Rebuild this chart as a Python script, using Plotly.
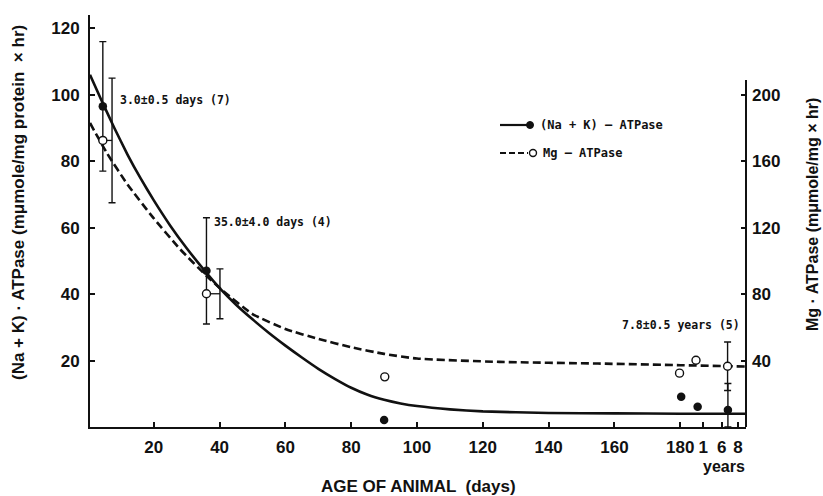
import plotly.graph_objects as go

# ---------------- data ----------------
# (Na+K)-ATPase measured points (left axis, mumole/mg protein x hr)
nak_days = [4.5, 36, 90, 180.3, 185.3, 194.5]
nak_vals = [96.5, 47, 2.1, 9.1, 6.1, 5.1]
nak_err_up = [19.5, 16, 0, 0, 0, 8]
nak_err_dn = [19.5, 16, 0, 0, 0, 5.1]

# Mg-ATPase measured points (right axis, mumole/mg x hr)
mg_days = [4.5, 36, 90.2, 179.8, 184.8, 194.4]
mg_vals = [172.5, 80.2, 30.2, 32.4, 40.2, 36.6]
mg_err = [37.5, 15, 0, 0, 0, 14.6]
mg_err_days = [7.3, 40.1, 90.2, 179.8, 184.8, 194.4]

# fitted curves
nak_curve_days = [0.6, 4, 8, 12, 16, 20, 25, 30, 35, 40, 45, 50, 55, 60, 65, 70, 75, 80,
                  85, 90, 95, 100, 110, 120, 140, 160, 180, 200]
nak_curve_vals = [106, 98.5, 90, 82, 74.8, 68.2, 60.6, 53.8, 47.6, 41.8, 36.8, 32.4, 28.3,
                  24.5, 20.9, 17.5, 14.5, 11.8, 9.7, 8.2, 7.1, 6.3, 5.3, 4.7, 4.2, 4.1, 4.0, 4.0]
mg_curve_days = [0.6, 5.7, 12, 19.8, 28, 36, 41, 50, 60, 70, 80, 90, 100, 125, 155, 180, 200]
mg_curve_vals = [183, 165, 146, 126, 107, 91, 82, 68, 59, 53, 48, 44, 41.2, 39.2, 38.2, 37.2, 36.4]

# axis ticks
x_tickvals = [20, 40, 60, 80, 100, 120, 140, 160, 180, 187.0, 192.6, 197.6]
x_ticktext = ["20", "40", "60", "80", "100", "120", "140", "160", "180", "1", "6", "8"]
y_tickvals = [20, 40, 60, 80, 100, 120]
y2_tickvals = [40, 80, 120, 160, 200]

annot_texts = ["3.0±0.5 days (7)", "35.0±4.0 days (4)", "7.8±0.5 years (5)"]

# ---------------- figure ----------------
BLACK = "#111111"
TICKFONT = dict(family="Liberation Sans, Arial, sans-serif", size=17, color=BLACK, weight="bold")
MONO = dict(family="DejaVu Sans Mono, monospace", size=11.5, color=BLACK, weight="bold")


def tfont(size):
    return dict(family="Liberation Sans, Arial, sans-serif", size=size, color=BLACK, weight="bold")


fig = go.Figure()

# curves
fig.add_trace(go.Scatter(x=nak_curve_days, y=nak_curve_vals, mode="lines",
                         line=dict(color=BLACK, width=2.6, shape="spline", smoothing=0.4),
                         showlegend=False, hoverinfo="skip"))
fig.add_trace(go.Scatter(x=mg_curve_days, y=mg_curve_vals, mode="lines", yaxis="y2",
                         line=dict(color=BLACK, width=2.6, dash="8px,4px", shape="spline", smoothing=0.5),
                         showlegend=False, hoverinfo="skip"))

# connectors from Mg circles to offset error bars
cx, cy = [], []
for d, ed, v in zip(mg_days, mg_err_days, mg_vals):
    if ed != d:
        cx += [d, ed, None]
        cy += [v, v, None]
fig.add_trace(go.Scatter(x=cx, y=cy, mode="lines", yaxis="y2",
                         line=dict(color=BLACK, width=1.3), showlegend=False, hoverinfo="skip"))

# Mg error bars (offset)
fig.add_trace(go.Scatter(x=mg_err_days, y=mg_vals, mode="markers", yaxis="y2",
                         marker=dict(size=1, opacity=0),
                         error_y=dict(type="data", array=mg_err, symmetric=True,
                                      color=BLACK, thickness=1.4, width=3.5),
                         showlegend=False, hoverinfo="skip"))

# Na+K error bars
fig.add_trace(go.Scatter(x=nak_days, y=nak_vals, mode="markers",
                         marker=dict(size=1, opacity=0),
                         error_y=dict(type="data", array=nak_err_up, arrayminus=nak_err_dn,
                                      symmetric=False, color=BLACK, thickness=1.4, width=3.5),
                         showlegend=False, hoverinfo="skip"))

# Mg markers (open)
fig.add_trace(go.Scatter(x=mg_days, y=mg_vals, mode="markers", yaxis="y2",
                         marker=dict(symbol="circle", size=8, color="white",
                                     line=dict(color=BLACK, width=1.4)),
                         showlegend=False, hoverinfo="skip"))
# Na+K markers (filled)
fig.add_trace(go.Scatter(x=nak_days, y=nak_vals, mode="markers",
                         marker=dict(symbol="circle", size=8.5, color=BLACK),
                         showlegend=False, hoverinfo="skip"))

# ---------------- layout ----------------
L, R, T, B = 90, 77, 15, 69
W, H = 823, 496
pw, ph = W - L - R, H - T - B


def px(xpix):
    return (xpix - L) / pw


def py(ypix):
    return (H - B - ypix) / ph


shapes = [
    # right axis line
    dict(type="line", xref="paper", yref="paper", x0=1, x1=1, y0=0, y1=py(80),
         line=dict(color=BLACK, width=2)),
    # legend samples
    dict(type="line", xref="paper", yref="paper", x0=px(500), x1=px(530), y0=py(125), y1=py(125),
         line=dict(color=BLACK, width=2.2)),
    dict(type="circle", xref="paper", yref="paper", xsizemode="pixel", ysizemode="pixel",
         xanchor=px(530), yanchor=py(125), x0=-3.5, x1=3.5, y0=-3.5, y1=3.5,
         fillcolor=BLACK, line=dict(color=BLACK, width=1)),
    dict(type="line", xref="paper", yref="paper", x0=px(500), x1=px(528), y0=py(153), y1=py(153),
         line=dict(color=BLACK, width=2.2, dash="6px,3px")),
    dict(type="circle", xref="paper", yref="paper", xsizemode="pixel", ysizemode="pixel",
         xanchor=px(533), yanchor=py(153), x0=-3.5, x1=3.5, y0=-3.5, y1=3.5,
         fillcolor="white", line=dict(color=BLACK, width=1.4)),
]

annotations = [
    dict(text=annot_texts[0], x=9.0, y=98.5, xref="x", yref="y", xanchor="left", yanchor="middle",
         showarrow=False, font=MONO),
    dict(text=annot_texts[1], x=37.8, y=61.7, xref="x", yref="y", xanchor="left", yanchor="middle",
         showarrow=False, font=MONO),
    dict(text=annot_texts[2], x=198.8, y=30.7, xref="x", yref="y", xanchor="right", yanchor="middle",
         showarrow=False, font=MONO),
    # legend texts
    dict(text="(Na + K) – ATPase", x=px(538), y=py(125), xref="paper", yref="paper",
         xanchor="left", yanchor="middle", showarrow=False,
         font=dict(family="DejaVu Sans Mono, monospace", size=12, color=BLACK, weight="bold")),
    dict(text="Mg – ATPase", x=px(541), y=py(153), xref="paper", yref="paper",
         xanchor="left", yanchor="middle", showarrow=False,
         font=dict(family="DejaVu Sans Mono, monospace", size=12, color=BLACK, weight="bold")),
    # axis titles
    dict(text="(Na + K) · ATPase (mμmole/mg protein  × hr)", x=px(18), y=py(203),
         xref="paper", yref="paper", textangle=-90, showarrow=False,
         xanchor="center", yanchor="middle", font=tfont(17)),
    dict(text="Mg · ATPase (mμmole/mg × hr)", x=px(812), y=py(215),
         xref="paper", yref="paper", textangle=-90, showarrow=False,
         xanchor="center", yanchor="middle", font=tfont(16)),
    dict(text="AGE OF ANIMAL  (days)", x=px(418), y=py(486),
         xref="paper", yref="paper", showarrow=False,
         xanchor="center", yanchor="middle", font=tfont(17)),
    dict(text="years", x=px(747), y=py(466),
         xref="paper", yref="paper", showarrow=False,
         xanchor="right", yanchor="middle", font=tfont(16)),
]

fig.update_layout(
    width=W, height=H,
    margin=dict(l=L, r=R, t=T, b=B, pad=0),
    paper_bgcolor="white", plot_bgcolor="white",
    showlegend=False,
    xaxis=dict(range=[0.6, 200], tickvals=x_tickvals, ticktext=x_ticktext, tickangle=0,
               ticks="inside", ticklen=5, tickwidth=1.5, tickcolor=BLACK,
               showline=True, linewidth=2, linecolor=BLACK,
               showgrid=False, zeroline=False, tickfont=TICKFONT, ticklabelstandoff=4),
    yaxis=dict(range=[0, 124], tickvals=y_tickvals,
               ticks="inside", ticklen=5, tickwidth=1.5, tickcolor=BLACK,
               showline=True, linewidth=2, linecolor=BLACK,
               showgrid=False, zeroline=False, tickfont=TICKFONT, ticklabelstandoff=5),
    yaxis2=dict(range=[0, 248], tickvals=y2_tickvals, overlaying="y", side="right",
                ticks="inside", ticklen=5, tickwidth=1.5, tickcolor=BLACK,
                showline=False, showgrid=False, zeroline=False, tickfont=TICKFONT,
                ticklabelstandoff=5),
    shapes=shapes,
    annotations=annotations,
)

fig.write_html("out.html")
